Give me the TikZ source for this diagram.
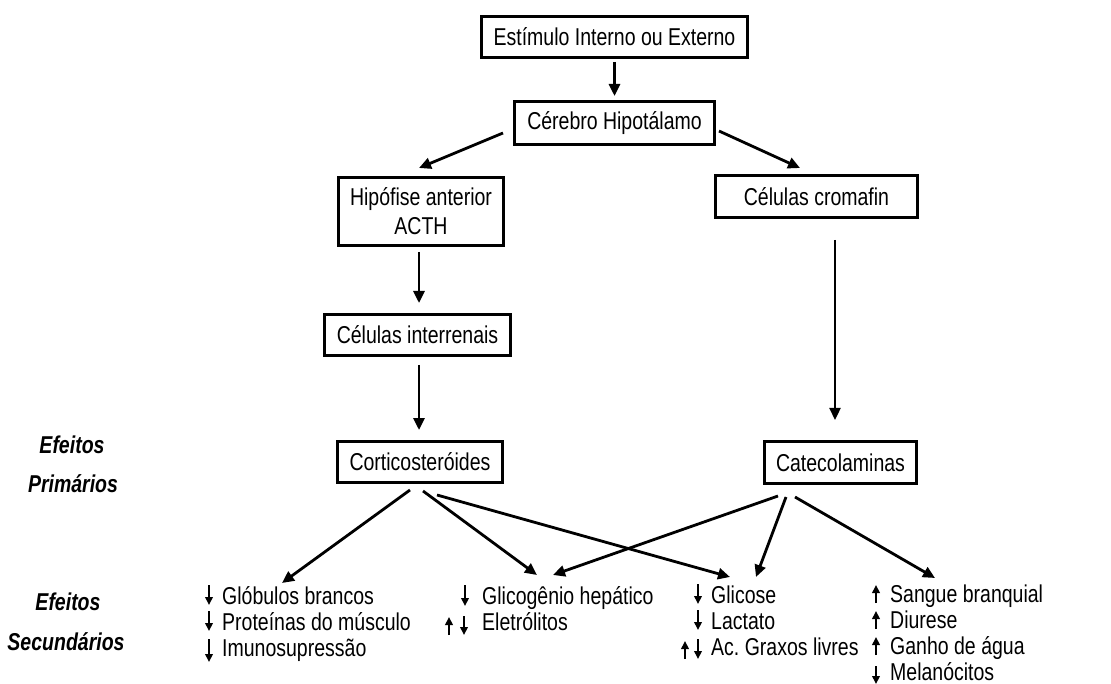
\documentclass[tikz,border=0pt]{standalone}
\usepackage{graphicx}
\usepackage{fontspec}
\setmainfont{Liberation Sans}
\usetikzlibrary{arrows.meta}
\newcommand{\vs}[1]{\scalebox{1}[1.25]{#1}}
\frenchspacing
\begin{document}
\begin{tikzpicture}[x=1pt,y=-1pt,
  box/.style={draw, line width=3pt, inner sep=0pt, align=center, font=\fontsize{19.5}{29}\selectfont},
  arr/.style={line width=2.8pt, -{Triangle[length=12pt,width=11pt]}},
  sarr/.style={line width=2pt, -{Triangle[length=8pt,width=7.5pt]}},
  item/.style={inner sep=0pt, anchor=base west, font=\fontsize{19.5}{24}\selectfont},
  lab/.style={inner sep=0pt, anchor=base, font=\fontsize{19.5}{24}\selectfont\bfseries\itshape}]
\useasboundingbox (0,0) rectangle (1111,684);

% boxes
\node[box, minimum width=266pt, minimum height=41pt] (est) at (614.5,37) {\vs{Estímulo Interno ou Externo}};
\node[box, minimum width=200pt, minimum height=43pt] (cer) at (614.5,123) {\vs{Cérebro Hipotálamo}};
\node[box, minimum width=165pt, minimum height=68pt] (hip) at (421,211.5) {\vs{Hipófise anterior}\\\vs{ACTH}};
\node[box, minimum width=186pt, minimum height=41pt] (int) at (417.5,335) {\vs{Células interrenais}};
\node[box, minimum width=202pt, minimum height=42pt] (crom) at (816.5,196.5) {\vs{Células cromafin}};
\node[box, minimum width=165pt, minimum height=41pt] (cort) at (420,462) {\vs{Corticosteróides}};
\node[box, minimum width=152pt, minimum height=42pt] (cat) at (840.5,462.5) {\vs{Catecolaminas}};

% side labels
\node[lab] (ef1) at (72,453) {\vs{Efeitos}};
\node[lab] (pr) at (73,492) {\vs{Primários}};
\node[lab] (ef2) at (68,610) {\vs{Efeitos}};
\node[lab] (se) at (66,650) {\vs{Secundários}};

% effect lists
\node[item] (gb) at (222,604) {\vs{Glóbulos brancos}};
\node[item] (pm) at (222,630) {\vs{Proteínas do músculo}};
\node[item] (im) at (222,656) {\vs{Imunosupressão}};

\node[item] (gh) at (482,604) {\vs{Glicogênio hepático}};
\node[item] (el) at (482,630) {\vs{Eletrólitos}};

\node[item] (gl) at (711,603) {\vs{Glicose}};
\node[item] (la) at (711,629) {\vs{Lactato}};
\node[item] (ag) at (711,655) {\vs{Ac. Graxos livres}};

\node[item] (sb) at (890,602) {\vs{Sangue branquial}};
\node[item] (di) at (890,628) {\vs{Diurese}};
\node[item] (ga) at (890,654) {\vs{Ganho de água}};
\node[item] (me) at (890,680) {\vs{Melanócitos}};

% small arrows
\draw[sarr] ([xshift=-13pt,yshift=19pt]gb.base west) -- ([xshift=-13pt,yshift=-1pt]gb.base west);
\draw[sarr] ([xshift=-13pt,yshift=19pt]pm.base west) -- ([xshift=-13pt,yshift=-1pt]pm.base west);
\draw[sarr] ([xshift=-13pt,yshift=17pt]im.base west) -- ([xshift=-13pt,yshift=-6pt]im.base west);

\draw[sarr] ([xshift=-17pt,yshift=19pt]gh.base west) -- ([xshift=-17pt,yshift=-2pt]gh.base west);
\draw[sarr] ([xshift=-33pt,yshift=-5pt]el.base west) -- ([xshift=-33pt,yshift=13pt]el.base west);
\draw[sarr] ([xshift=-18pt,yshift=14pt]el.base west) -- ([xshift=-18pt,yshift=-5pt]el.base west);

\draw[sarr] ([xshift=-13pt,yshift=19pt]gl.base west) -- ([xshift=-13pt,yshift=-1pt]gl.base west);
\draw[sarr] ([xshift=-13pt,yshift=19pt]la.base west) -- ([xshift=-13pt,yshift=-1pt]la.base west);
\draw[sarr] ([xshift=-26pt,yshift=-4pt]ag.base west) -- ([xshift=-26pt,yshift=14pt]ag.base west);
\draw[sarr] ([xshift=-13pt,yshift=16pt]ag.base west) -- ([xshift=-13pt,yshift=-4pt]ag.base west);

\draw[sarr] ([xshift=-14pt,yshift=-1pt]sb.base west) -- ([xshift=-14pt,yshift=17pt]sb.base west);
\draw[sarr] ([xshift=-14pt,yshift=-1pt]di.base west) -- ([xshift=-14pt,yshift=17pt]di.base west);
\draw[sarr] ([xshift=-14pt,yshift=-1pt]ga.base west) -- ([xshift=-14pt,yshift=17pt]ga.base west);
\draw[sarr] ([xshift=-14pt,yshift=14pt]me.base west) -- ([xshift=-14pt,yshift=-4pt]me.base west);

% main arrows
\draw[arr] ([yshift=-3pt]est.south) -- ([yshift=4pt]cer.north);
\draw[arr] ([xshift=-10pt,yshift=-10pt]cer.west) -- ([xshift=-2pt,yshift=8pt]hip.north);
\draw[arr] ([xshift=3pt,yshift=-8pt]cer.east) -- ([xshift=-16.5pt,yshift=6pt]crom.north);
\draw[arr] ([xshift=-2pt,yshift=-5pt]hip.south) -- ([xshift=1.5pt,yshift=10pt]int.north);
\draw[arr] ([xshift=1.5pt,yshift=-8pt]int.south) -- ([xshift=-1pt,yshift=10pt]cort.north);
\draw[arr, line width=2.3pt] ([xshift=18.5pt,yshift=-21pt]crom.south) -- ([xshift=-5.5pt,yshift=20pt]cat.north);

% effect arrows
\draw[arr] ([xshift=-10pt,yshift=-6pt]cort.south) -- ([xshift=60pt,yshift=21pt]gb.base west);
\draw[arr] ([xshift=3pt,yshift=-7pt]cort.south) -- ([xshift=55pt,yshift=29pt]gh.base west);
\draw[arr] ([xshift=17pt,yshift=-11pt]cort.south) -- ([xshift=19pt,yshift=26pt]gl.base west);
\draw[arr] ([xshift=-62.5pt,yshift=-11pt]cat.south) -- ([xshift=71pt,yshift=29pt]gh.base west);
\draw[arr] ([xshift=-54.5pt,yshift=-12pt]cat.south) -- ([xshift=45pt,yshift=26pt]gl.base west);
\draw[arr] ([xshift=-45.5pt,yshift=-12pt]cat.south) -- ([xshift=45pt,yshift=24pt]sb.base west);
\end{tikzpicture}
\end{document}
